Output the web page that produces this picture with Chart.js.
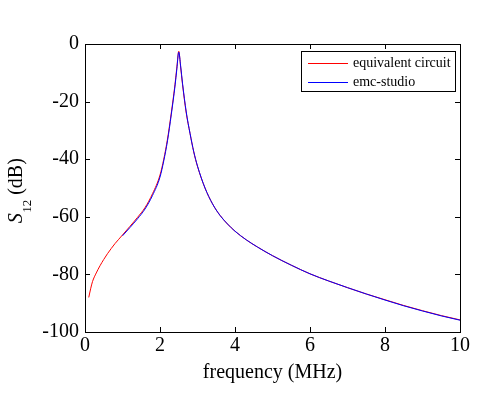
<!DOCTYPE html>
<html>
<head>
<meta charset="utf-8">
<script src="https://cdn.jsdelivr.net/npm/chart.js@4.4.1/dist/chart.umd.min.js"></script>
<style>
  html, body { margin: 0; padding: 0; background: #ffffff; }
  #wrap { width: 500px; height: 400px; position: relative; }
</style>
</head>
<body>
<div id="wrap"><canvas id="c" width="500" height="400"></canvas></div>
<script>
// ---- data ----
const seriesNames = ['equivalent circuit', 'emc-studio'];
const seriesColors = ['#ff0000', '#0000ff'];

const redFreq = [0.1, 0.15, 0.2, 0.3, 0.4, 0.5, 0.6, 0.7, 0.8, 0.9, 1.0, 1.2, 1.4, 1.6, 1.8, 2.0, 2.1, 2.2, 2.3, 2.4, 2.45, 2.5, 2.55, 2.6, 2.7, 2.8, 2.9, 3.0, 3.2, 3.4, 3.6, 3.8, 4.0, 4.3, 4.6, 5.0, 5.5, 6.0, 6.5, 7.0, 7.5, 8.0, 8.5, 9.0, 9.5, 10.0];
const redS12  = [-88, -85, -82.5, -79.5, -77, -74.8, -72.8, -71, -69.3, -67.8, -66.3, -63.3, -60.2, -56.8, -52, -45.5, -40, -33, -24, -14, -8, -2.5, -8, -14, -24, -31, -37.5, -42.5, -50, -55.5, -59.5, -62.5, -65, -68, -70.5, -73.5, -76.8, -79.8, -82.3, -84.6, -86.8, -88.8, -90.8, -92.6, -94.3, -95.8];

const blueFreq = [1.0, 1.2, 1.4, 1.6, 1.8, 2.0, 2.1, 2.2, 2.3, 2.4, 2.45, 2.5, 2.55, 2.6, 2.7, 2.8, 2.9, 3.0, 3.2, 3.4, 3.6, 3.8, 4.0, 4.3, 4.6, 5.0, 5.5, 6.0, 6.5, 7.0, 7.5, 8.0, 8.5, 9.0, 9.5, 10.0];
const blueS12  = [-66.6, -63.7, -60.7, -57.3, -52.6, -46.2, -40.6, -33.6, -24.6, -14.6, -8.6, -2.8, -7.6, -13.6, -23.6, -31, -37.4, -42.4, -50, -55.5, -59.5, -62.5, -65, -68, -70.5, -73.5, -76.8, -79.8, -82.3, -84.6, -86.8, -88.9, -90.9, -92.7, -94.4, -95.9];

const xTicks = [0, 2, 4, 6, 8, 10];
const yTicks = [-100, -80, -60, -40, -20, 0];
const xTitle = 'frequency (MHz)';
const yTitleMain = 'S';
const yTitleSub = '12';
const yTitleUnit = ' (dB)';

const SERIF = '"Liberation Serif", "Times New Roman", serif';

function pts(xs, ys) { return xs.map((x, i) => ({ x: x, y: ys[i] })); }

const framePlugin = {
  id: 'frame',
  afterDraw(chart) {
    const ctx = chart.ctx;
    const a = chart.chartArea;
    const xs = chart.scales.x, ys = chart.scales.y;
    ctx.save();
    ctx.strokeStyle = '#000';
    ctx.lineWidth = 1;
    ctx.strokeRect(Math.round(a.left) + 0.5, Math.round(a.top) + 0.5, Math.round(a.right - a.left), Math.round(a.bottom - a.top));
    const tl = 5;
    ctx.beginPath();
    xTicks.forEach(v => {
      const px = Math.round(xs.getPixelForValue(v)) + 0.5;
      ctx.moveTo(px, a.bottom); ctx.lineTo(px, a.bottom - tl);
      ctx.moveTo(px, a.top); ctx.lineTo(px, a.top + tl);
    });
    yTicks.forEach(v => {
      const py = Math.round(ys.getPixelForValue(v)) + 0.5;
      ctx.moveTo(a.left, py); ctx.lineTo(a.left + tl, py);
      ctx.moveTo(a.right, py); ctx.lineTo(a.right - tl, py);
    });
    ctx.stroke();

    // legend box
    const lx = 301.5, ly = 51.5, lw = 154, lh = 40;
    ctx.fillStyle = '#fff';
    ctx.fillRect(lx, ly, lw, lh);
    ctx.strokeStyle = '#000';
    ctx.strokeRect(lx, ly, lw, lh);
    ctx.font = '14px ' + SERIF;
    ctx.textBaseline = 'middle';
    ctx.textAlign = 'left';
    seriesNames.forEach((name, i) => {
      const yy = 63 + i * 18.5;
      ctx.strokeStyle = seriesColors[i];
      ctx.lineWidth = 1;
      ctx.beginPath();
      ctx.moveTo(308, Math.round(yy) + 0.5);
      ctx.lineTo(348, Math.round(yy) + 0.5);
      ctx.stroke();
      ctx.fillStyle = '#000';
      ctx.fillText(name, 353, yy + 0.5);
    });

    // y axis title with subscript
    ctx.save();
    ctx.translate(22, 191);
    ctx.rotate(-Math.PI / 2);
    ctx.fillStyle = '#000';
    ctx.textBaseline = 'alphabetic';
    ctx.textAlign = 'left';
    ctx.font = 'italic 20px ' + SERIF;
    const w1 = ctx.measureText(yTitleMain).width;
    ctx.font = '13px ' + SERIF;
    const w2 = ctx.measureText(yTitleSub).width;
    ctx.font = '20px ' + SERIF;
    const w3 = ctx.measureText(yTitleUnit).width;
    let sx = -(w1 + w2 + w3) / 2;
    ctx.font = 'italic 20px ' + SERIF;
    ctx.fillText(yTitleMain, sx, 0); sx += w1 + 0.5;
    ctx.font = '13px ' + SERIF;
    ctx.fillText(yTitleSub, sx, 9); sx += w2;
    ctx.font = '20px ' + SERIF;
    ctx.fillText(yTitleUnit, sx, 0);
    ctx.restore();
    ctx.restore();
  }
};

new Chart(document.getElementById('c'), {
  type: 'line',
  data: {
    datasets: [
      { label: seriesNames[0], data: pts(redFreq, redS12), borderColor: seriesColors[0], borderWidth: 1, pointRadius: 0, cubicInterpolationMode: 'monotone', fill: false, order: 2 },
      { label: seriesNames[1], data: pts(blueFreq, blueS12), borderColor: seriesColors[1], borderWidth: 1, pointRadius: 0, cubicInterpolationMode: 'monotone', fill: false, order: 1 }
    ]
  },
  options: {
    responsive: false,
    animation: false,
    devicePixelRatio: 1,
    layout: { padding: { top: 44, right: 40, left: 0, bottom: 0 } },
    plugins: { legend: { display: false }, tooltip: { enabled: false } },
    scales: {
      x: {
        type: 'linear', min: 0, max: 10,
        afterBuildTicks: s => { s.ticks = xTicks.map(v => ({ value: v })); },
        afterFit: s => { s.height = 68; },
        grid: { display: false, drawTicks: false, tickLength: 0 },
        border: { display: false },
        ticks: { color: '#000', font: { family: SERIF, size: 20 }, padding: 2, maxRotation: 0 },
        title: { display: true, text: xTitle, color: '#000', font: { family: SERIF, size: 20 }, padding: { top: 0, bottom: 15 } }
      },
      y: {
        type: 'linear', min: -100, max: 0,
        afterBuildTicks: s => { s.ticks = yTicks.map(v => ({ value: v })); },
        afterFit: s => { s.width = 85; },
        grid: { display: false, drawTicks: false, tickLength: 0 },
        border: { display: false },
        ticks: { color: '#000', font: { family: SERIF, size: 20 }, padding: 6 }
      }
    }
  },
  plugins: [framePlugin]
});
</script>
</body>
</html>
